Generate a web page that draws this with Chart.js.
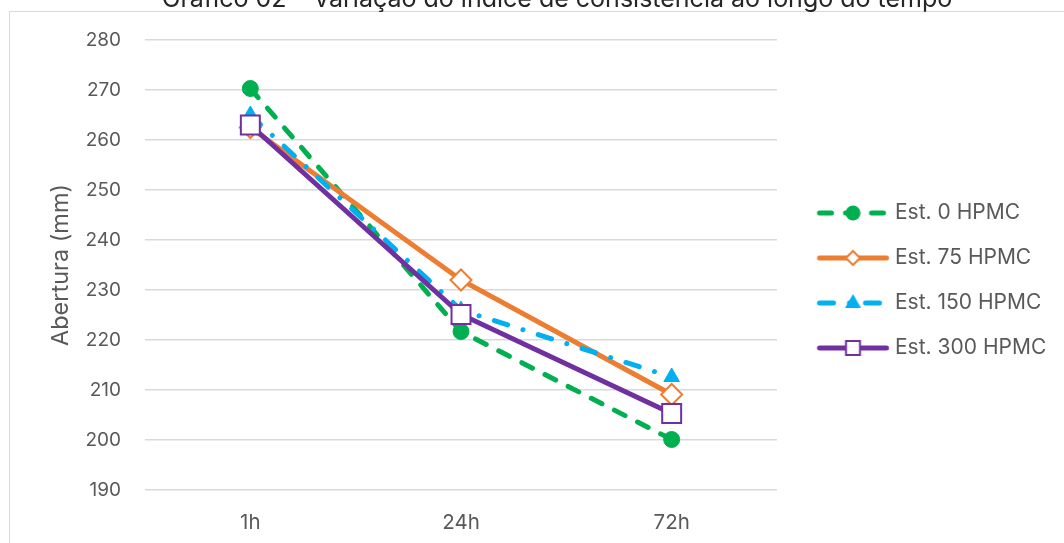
<!DOCTYPE html>
<html>
<head>
<meta charset="utf-8">
<script src="https://cdn.jsdelivr.net/npm/chart.js@4.4.1/dist/chart.umd.min.js"></script>
<style>
  html, body { margin: 0; padding: 0; background: #ffffff; }
  #wrap { position: relative; width: 1064px; height: 543px; overflow: hidden; background: #ffffff; }
  #frame { position: absolute; left: 9px; top: 11px; right: -5px; bottom: -5px;
           border-left: 1px solid #d9d9d9; border-top: 1px solid #d9d9d9; }
  #box { position: absolute; left: 0; top: -17px; width: 1064px; height: 595px; }
</style>
</head>
<body>
<div id="wrap">
  <div id="frame"></div>
  <div id="box"><canvas id="c" width="1064" height="595"></canvas></div>
</div>
<script>
// Abertura (mm) per cure time for each HPMC content
const categories = ['1h', '24h', '72h'];
const est0   = [270.3, 221.7, 200.1];
const est75  = [262.5, 232.0, 209.1];
const est150 = [265.0, 226.0, 212.6];
const est300 = [263.0, 225.1, 205.3];
const seriesNames = ['Est. 0 HPMC', 'Est. 75 HPMC', 'Est. 150 HPMC', 'Est. 300 HPMC'];
const yMin = 190, yMax = 280, yStep = 10;

const FONT = 'Inter, "Liberation Sans", Arial, sans-serif';
const TEXT = '#595959';

const GREEN = '#00B050', ORANGE = '#ED7D31', BLUE = '#00B0F0', PURPLE = '#7030A0';
const DASH_GREEN = [12, 14];
const DASH_BLUE = [14, 16, 0.01, 16];

// Legend swatch: a short stroke of the series line with its marker in the middle
function swatch(color, dash, drawMarker) {
  const c = document.createElement('canvas');
  c.width = 96; c.height = 26;
  const g = c.getContext('2d');
  g.strokeStyle = color;
  g.lineWidth = 5;
  g.lineCap = 'round';
  g.setLineDash(dash);
  g.beginPath();
  g.moveTo(24.75, 13);
  g.lineTo(91.75, 13);
  g.stroke();
  g.setLineDash([]);
  drawMarker(g, 58.25, 13);
  return c;
}
const legendMarks = [
  swatch(GREEN, DASH_GREEN, (g, x, y) => {
    g.fillStyle = GREEN; g.beginPath(); g.arc(x, y, 7.5, 0, Math.PI * 2); g.fill();
  }),
  swatch(ORANGE, [], (g, x, y) => {
    g.fillStyle = '#fff'; g.strokeStyle = ORANGE; g.lineWidth = 2;
    g.beginPath(); g.moveTo(x - 7, y); g.lineTo(x, y - 7); g.lineTo(x + 7, y); g.lineTo(x, y + 7); g.closePath();
    g.fill(); g.stroke();
  }),
  swatch(BLUE, DASH_BLUE, (g, x, y) => {
    g.fillStyle = BLUE; g.beginPath();
    g.moveTo(x, y - 9); g.lineTo(x + 8, y + 5); g.lineTo(x - 8, y + 5); g.closePath(); g.fill();
  }),
  swatch(PURPLE, [], (g, x, y) => {
    g.fillStyle = '#fff'; g.strokeStyle = PURPLE; g.lineWidth = 2;
    g.fillRect(x - 7, y - 7, 14, 14); g.strokeRect(x - 7, y - 7, 14, 14);
  })
];

// Legend box keeps a fixed width so the plot ends where the legend begins
const fixedLegendWidth = {
  id: 'fixedLegendWidth',
  beforeLayout(chart) {
    const lg = chart.legend;
    if (lg && !lg.__fixed) {
      const fit = lg.fit;
      lg.fit = function () { fit.call(this); this.width = 270; };
      lg.__fixed = true;
    }
  }
};

const datasets = [
  {
    label: seriesNames[0], data: est0, order: 3,
    borderColor: GREEN, borderWidth: 5, borderDash: DASH_GREEN, borderCapStyle: 'round',
    pointStyle: 'circle', pointRadius: 8, pointBackgroundColor: GREEN, pointBorderColor: GREEN, pointBorderWidth: 1
  },
  {
    label: seriesNames[1], data: est75, order: 2,
    borderColor: ORANGE, borderWidth: 5, borderCapStyle: 'round',
    pointStyle: 'rectRot', pointRadius: 10.5, pointBackgroundColor: '#ffffff', pointBorderColor: ORANGE, pointBorderWidth: 2
  },
  {
    label: seriesNames[2], data: est150, order: 1,
    borderColor: BLUE, borderWidth: 5, borderDash: DASH_BLUE, borderCapStyle: 'round',
    pointStyle: 'triangle', pointRadius: 9, pointBackgroundColor: BLUE, pointBorderColor: BLUE, pointBorderWidth: 1
  },
  {
    label: seriesNames[3], data: est300, order: 0,
    borderColor: PURPLE, borderWidth: 5, borderCapStyle: 'round',
    pointStyle: 'rect', pointRadius: 13.4, pointBackgroundColor: '#ffffff', pointBorderColor: PURPLE, pointBorderWidth: 2
  }
];

new Chart(document.getElementById('c'), {
  type: 'line',
  data: { labels: categories, datasets },
  plugins: [fixedLegendWidth],
  options: {
    responsive: false,
    animation: false,
    events: [],
    tension: 0,
    layout: { padding: { left: 67, right: 17, top: 0, bottom: 0 } },
    scales: {
      x: {
        type: 'category',
        offset: true,
        grid: { display: false, drawTicks: false },
        border: { display: false },
        ticks: { color: TEXT, font: { family: FONT, size: 20.5 }, padding: 21 },
        afterFit(scale) { scale.height = 88; }
      },
      y: {
        min: yMin, max: yMax,
        grid: { color: '#d9d9d9', lineWidth: 1.5, drawTicks: false },
        border: { display: false },
        ticks: { stepSize: yStep, color: TEXT, font: { family: FONT, size: 19 }, padding: 24 },
        title: {
          display: true, text: 'Abertura (mm)', color: TEXT,
          font: { family: FONT, size: 23.5 }, padding: { top: -20.1, bottom: 0 }
        },
        afterFit(scale) { scale.width = 78; }
      }
    },
    plugins: {
      title: {
        display: true,
        text: 'Gráfico 02 – Variação do índice de consistência ao longo do tempo',
        color: '#262626',
        font: { family: FONT, size: 25, weight: 'normal' },
        padding: { top: 1, bottom: 26 }
      },
      legend: {
        position: 'right',
        align: 'center',
        labels: {
          usePointStyle: true,
          pointStyleWidth: 83.5,
          padding: 24,
          color: TEXT,
          font: { family: FONT, size: 21 },
          sort: (a, b) => a.datasetIndex - b.datasetIndex,
          generateLabels(chart) {
            const items = Chart.defaults.plugins.legend.labels.generateLabels(chart);
            items.forEach(it => { it.pointStyle = legendMarks[it.datasetIndex]; });
            return items;
          }
        }
      },
      tooltip: { enabled: false }
    }
  }
});
</script>
</body>
</html>
